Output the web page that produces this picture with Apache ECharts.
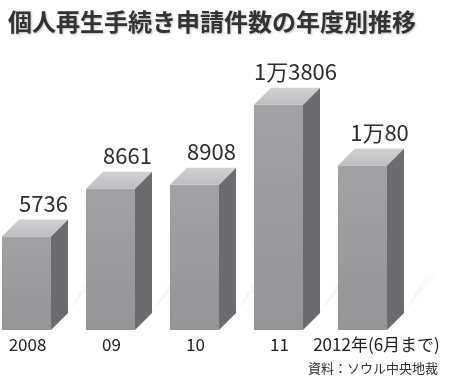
<!DOCTYPE html>
<html><head><meta charset="utf-8">
<script src="https://cdn.jsdelivr.net/npm/echarts@6/dist/echarts.min.js"></script>
<style>html,body{margin:0;padding:0;background:#fff}#c{width:450px;height:389px}</style>
</head><body><div id="c"></div>
<script>
const categories = ['2008', '09', '10', '11', '2012年(6月まで)'];
const values = [5736, 8661, 8908, 13806, 10080];
const valueLabels = ['5736', '8661', '8908', '1万3806', '1万80'];
const titleText = '個人再生手続き申請件数の年度別推移';
const sourceText = '資料：ソウル中央地裁';

const FONT = '"Noto Sans CJK JP", "Noto Sans", sans-serif';
const chart = echarts.init(document.getElementById('c'), null, {renderer: 'canvas'});
const DX = 17, DY = 17, BW = 49;

function renderItem(params, api) {
  const idx = api.value(0), v = api.value(1);
  const base = api.coord([idx, 0]);
  const top = api.coord([idx, v]);
  const cx = base[0];
  const x0 = cx - BW / 2, x1 = cx + BW / 2, y0 = base[1], y1 = top[1];
  const shadow = {
    type: 'polygon',
    shape: {points: [[x1, y0], [x1 + DX, y0 - DY], [x1 + DX + 40, y0 - DY - 70], [x1 + 50, y0 - 55]]},
    style: {fill: new echarts.graphic.LinearGradient(x1, y0, x1 + 45, y0 - 65, [
      {offset: 0, color: 'rgba(170,170,170,0.25)'},
      {offset: 1, color: 'rgba(170,170,170,0)'}
    ], true)},
    silent: true
  };
  const front = {type: 'rect', shape: {x: x0, y: y1, width: BW, height: y0 - y1},
    style: {fill: new echarts.graphic.LinearGradient(0, 0, 0, 1, [
      {offset: 0, color: '#a2a2a4'}, {offset: 1, color: '#959597'}])}};
  const side = {type: 'polygon', shape: {points: [[x1, y1], [x1 + DX, y1 - DY], [x1 + DX, y0 - DY], [x1, y0]]},
    style: {fill: '#6c6c70'}};
  const topFace = {type: 'polygon', shape: {points: [[x0, y1], [x0 + DX, y1 - DY], [x1 + DX, y1 - DY], [x1, y1]]},
    style: {fill: new echarts.graphic.LinearGradient(0, 0, 0, 1, [
      {offset: 0, color: '#d2d2d4'}, {offset: 1, color: '#bdbdbf'}])}};
  const label = {type: 'text', x: cx + 17, y: y1 - DY - 5,
    style: {text: valueLabels[idx], font: '22px ' + FONT, fill: '#2e2e2e', align: 'center', verticalAlign: 'bottom'}};
  const last = idx === categories.length - 1;
  const catLabel = {type: 'text', x: cx + (last ? 14 : 1), y: y0 + 6,
    style: {text: categories[idx], font: '17px ' + FONT, fill: '#222', align: 'center', verticalAlign: 'top'}};
  return {type: 'group', children: [shadow, front, side, topFace, label, catLabel]};
}

chart.setOption({
  animation: false,
  backgroundColor: '#fff',
  title: {
    text: titleText, left: 3, top: 5,
    textStyle: {fontFamily: FONT, fontWeight: 'bold', fontSize: 24, color: '#333',
      textShadowColor: 'rgba(0,0,0,0.25)', textShadowBlur: 2, textShadowOffsetX: 1, textShadowOffsetY: 1}
  },
  grid: {left: 0, right: 0, top: 69, bottom: 59, containLabel: false},
  xAxis: {type: 'value', min: -0.3155, max: 5.0417, show: false, splitLine: {show: false}},
  yAxis: {type: 'value', min: 0, max: 16000, show: false, splitLine: {show: false}},
  series: [{
    type: 'custom',
    renderItem: renderItem,
    data: values.map((v, i) => [i, v]),
    clip: false
  }],
  graphic: [{
    type: 'text', right: 12, top: 362,
    style: {text: sourceText, font: '13px ' + FONT, fill: '#333'}
  }]
});
</script>
</body></html>
